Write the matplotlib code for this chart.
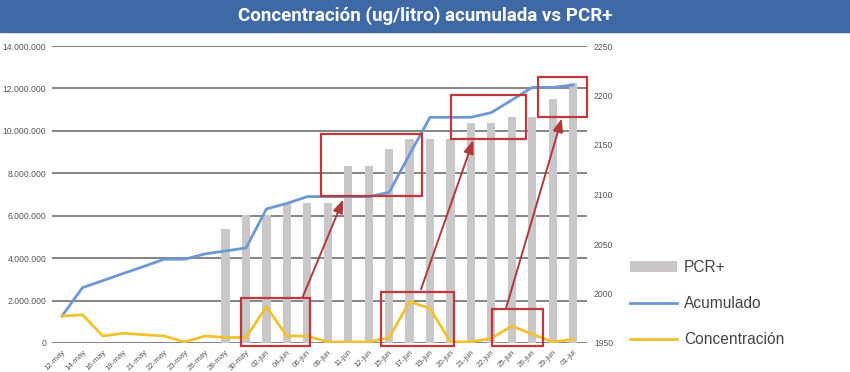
import matplotlib
matplotlib.use("Agg")
import matplotlib.pyplot as plt
from matplotlib.patches import Rectangle, Patch
from matplotlib.lines import Line2D
from matplotlib.ticker import FuncFormatter

plt.rcParams["font.family"] = ["Liberation Sans", "DejaVu Sans"]

# ===================== DATA =====================
fechas = [
    "12-may", "14-may", "16-may", "19-may", "21-may", "22-may", "23-may",
    "26-may", "28-may", "30-may", "02-jun", "04-jun", "06-jun", "09-jun",
    "11-jun", "12-jun", "15-jun", "17-jun", "19-jun", "20-jun", "21-jun",
    "22-jun", "25-jun", "26-jun", "29-jun", "01-jul",
]
acumulado = [
    1270000, 2610000, 2940000, 3280000, 3610000, 3950000, 3950000,
    4200000, 4340000, 4480000, 6320000, 6580000, 6900000, 6900000,
    6900000, 6900000, 7100000, 8890000, 10640000, 10640000, 10640000,
    10860000, 11450000, 12050000, 12050000, 12160000,
]
concentracion = [
    1270000, 1330000, 330000, 460000, 390000, 330000, 50000,
    330000, 260000, 260000, 1710000, 330000, 330000, 50000,
    50000, 50000, 250000, 1950000, 1630000, 50000, 50000,
    220000, 800000, 420000, 50000, 170000,
]
# None = no bar for that date
pcr = [
    None, None, None, None, None, None, None,
    None, 2065, 2079, 2079, 2091, 2091, 2091,
    2129, 2129, 2146, 2156, 2156, 2156, 2172,
    2172, 2178, 2178, 2196, 2213,
]

# ===================== ANNOTATIONS (x index, left-axis value) =====================
boxes = [
    (8.74, -140000, 12.13, 2110000),
    (12.66, 6930000, 17.61, 9850000),
    (15.59, -140000, 19.18, 2390000),
    (19.02, 9620000, 22.69, 11690000),
    (21.02, -140000, 23.55, 1590000),
    (23.27, 10640000, 25.70, 12520000),
]
arrows = [
    ((11.76, 2140000), (13.76, 6770000)),
    ((17.56, 2530000), (20.12, 9570000)),
    ((21.72, 1640000), (24.45, 10590000)),
]

BLUE = "#6d98d3"
YELLOW = "#f2c12e"
GREY_BAR = "#c9c7c7"
RED = "#c0383b"
TXT = "#555555"

fig = plt.figure(figsize=(8.5, 3.72), dpi=100)

# title bar
fig.patches.append(Rectangle((0, 1 - 32 / 372), 1, 32 / 372,
                             transform=fig.transFigure, color="#3e69a5", zorder=0))
fig.text(0.5, 1 - 16 / 372, "Concentración (ug/litro) acumulada vs PCR+",
         ha="center", va="center", color="white", fontsize=13.5,
         fontweight="bold", family=["Roboto", "DejaVu Sans"])

ax = fig.add_axes([52 / 850, 1 - 343 / 372, 535 / 850, 297 / 372])
ax2 = ax.twinx()
ax.set_zorder(ax2.get_zorder() + 1)
ax.patch.set_visible(False)

x = list(range(len(fechas)))

# gridlines follow the left axis (0..14M in 7 steps), drawn under the bars
for k in range(8):
    ax2.axhline(1950 + k * 300 / 7, color="#707070", linewidth=1.2, zorder=0)

# bars on right axis
bx = [i for i, v in zip(x, pcr) if v is not None]
bh = [v - 1950 for v in pcr if v is not None]
ax2.bar(bx, bh, bottom=1950, width=0.4, color=GREY_BAR, zorder=2)
ax2.set_ylim(1950, 2250)
ax2.set_yticks(range(1950, 2251, 50))

# lines on left axis
ax.plot(x, acumulado, color=BLUE, linewidth=2)
ax.plot(x, concentracion, color=YELLOW, linewidth=2)
ax.set_ylim(0, 14000000)
ax.set_yticks(range(0, 14000001, 2000000))
ax.yaxis.set_major_formatter(FuncFormatter(lambda v, p: f"{v:,.0f}".replace(",", ".")))
ax.set_xlim(-0.49, 25.68)
ax.set_xticks(x)
ax.set_xticklabels(fechas, rotation=45, ha="right", rotation_mode="anchor")

for a in (ax, ax2):
    for s in a.spines.values():
        s.set_visible(False)
    a.tick_params(length=0, labelsize=6.2, colors=TXT)
ax.tick_params(axis="x", labelsize=5.6, pad=4)
ax.tick_params(axis="y", pad=4)
ax2.tick_params(axis="y", pad=5)

# red highlight boxes and arrows
for x0, y0, x1, y1 in boxes:
    ax.add_patch(Rectangle((x0, y0), x1 - x0, y1 - y0, fill=False,
                           edgecolor=RED, linewidth=1.6, zorder=5, clip_on=False))
for start, end in arrows:
    ax.annotate("", xy=end, xytext=start,
                arrowprops=dict(arrowstyle="-|>,head_length=0.8,head_width=0.3",
                                color="#b03a3a", linewidth=1.4, shrinkA=0, shrinkB=0),
                zorder=6)

handles = [
    Patch(facecolor=GREY_BAR, edgecolor="none"),
    Line2D([], [], color=BLUE, linewidth=2),
    Line2D([], [], color=YELLOW, linewidth=2),
]
fig.legend(handles, ["PCR+", "Acumulado", "Concentración"],
           loc="upper left", bbox_to_anchor=(0.725, 0.34), frameon=False,
           fontsize=11.2, labelcolor="#444444", handlelength=3.0,
           handleheight=0.7, labelspacing=1.38, handletextpad=0.45)

fig.savefig("out.png", dpi=100)
